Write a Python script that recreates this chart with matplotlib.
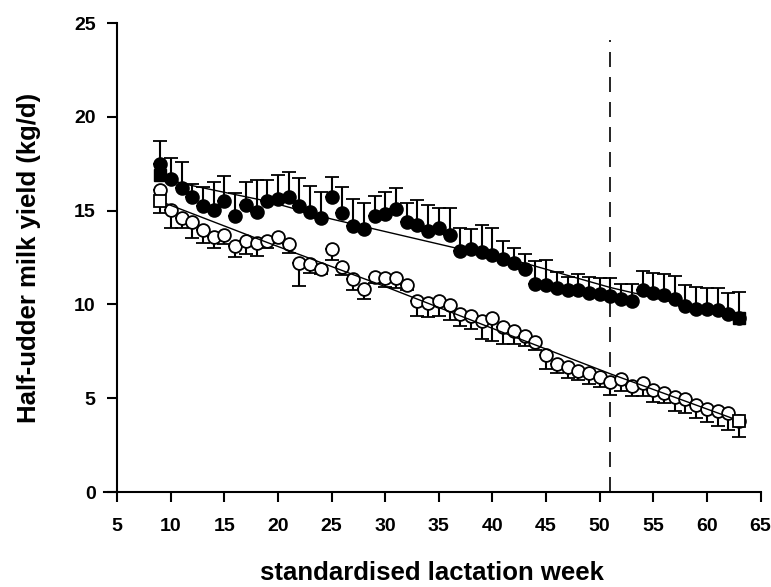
import numpy as np
import matplotlib
matplotlib.use("Agg")
import matplotlib.pyplot as plt

plt.rcParams['font.family'] = ['Liberation Sans', 'DejaVu Sans']
plt.rcParams['font.weight'] = 'bold'

weeks = list(range(9, 64))

# filled circles (upper error bars)
filled_mean = [17.5, 16.7, 16.2, 15.7, 15.25, 15.05, 15.5, 14.7, 15.3, 14.95,
               15.5, 15.6, 15.7, 15.25, 14.9, 14.6, 15.7, 14.85, 14.2, 14.0,
               14.7, 14.8, 15.1, 14.4, 14.25, 13.9, 14.05, 13.7, 12.85, 12.95,
               12.8, 12.65, 12.4, 12.2, 11.9, 11.1, 11.05, 10.85, 10.75, 10.75,
               10.6, 10.55, 10.45, 10.3, 10.2, 10.75, 10.6, 10.5, 10.3, 9.9,
               9.75, 9.75, 9.7, 9.5, 9.3]
filled_err = [1.2, 1.1, 1.4, 0.7, 1.0, 1.45, 1.35, 1.25, 1.2, 1.7,
              1.15, 1.3, 1.35, 1.5, 1.4, 1.4, 1.1, 1.4, 1.4, 1.4,
              1.1, 1.2, 1.1, 1.0, 1.3, 1.4, 1.1, 1.45, 1.2, 1.05,
              1.45, 1.4, 1.0, 0.8, 0.8, 1.2, 1.3, 0.9, 0.7, 0.85,
              0.85, 0.85, 0.95, 0.8, 0.9, 1.05, 1.1, 1.1, 1.2, 1.15,
              1.2, 1.15, 1.15, 1.1, 1.35]

# open circles (lower error bars)
open_mean = [16.1, 15.05, 14.6, 14.4, 13.95, 13.6, 13.7, 13.1, 13.4, 13.3,
             13.4, 13.6, 13.2, 12.2, 12.15, 11.9, 12.95, 12.0, 11.35, 10.8,
             11.45, 11.4, 11.4, 11.05, 10.2, 10.1, 10.2, 9.95, 9.5, 9.4,
             9.1, 9.3, 8.8, 8.6, 8.3, 8.0, 7.3, 6.85, 6.65, 6.45,
             6.35, 6.15, 5.85, 6.0, 5.65, 5.8, 5.45, 5.3, 5.05, 4.95,
             4.65, 4.45, 4.3, 4.2, 3.8]
open_err = [1.25, 0.95, 0.5, 0.85, 0.7, 0.6, 0.5, 0.55, 0.7, 0.7,
            0.4, 0.35, 0.45, 1.2, 0.5, 0.3, 0.6, 0.45, 0.6, 0.5,
            0.3, 0.45, 0.5, 0.3, 0.8, 0.75, 0.8, 0.8, 0.65, 0.7,
            0.95, 1.25, 0.9, 0.7, 0.5, 0.45, 0.75, 0.5, 0.55, 0.5,
            0.6, 0.55, 0.7, 0.6, 0.55, 0.7, 0.65, 0.55, 0.75, 0.75,
            0.7, 0.7, 0.8, 0.9, 0.85]

# fitted curves
fit_weeks_filled = [9, 11, 19, 25, 37, 43, 51, 63]
fit_filled = [16.9, 16.45, 15.5, 14.55, 12.95, 12.2, 10.9, 9.3]
fit_weeks_open = [9, 19, 30, 41, 51, 63]
fit_open = [15.5, 13.3, 10.95, 8.5, 6.3, 3.8]

cutoff_week = 51

fig = plt.figure(figsize=(7.71, 5.87), dpi=100)
ax = fig.add_axes([0.1353, 0.1618, 0.8511, 0.799])

zeros = np.zeros(len(weeks))
eb_kw = dict(fmt='o', ms=9.2, mew=1.3, mec='black', ecolor='black',
             elinewidth=1.5, capsize=4.8, capthick=1.5)

ax.errorbar(weeks, filled_mean, yerr=[zeros, filled_err], mfc='black',
            zorder=3, **eb_kw)
ax.errorbar(weeks, open_mean, yerr=[open_err, zeros], mfc='white',
            zorder=3, **eb_kw)

ax.plot(fit_weeks_filled, fit_filled, color='black', lw=1.0, zorder=4)
ax.plot(fit_weeks_open, fit_open, color='black', lw=1.0, zorder=4)

# end points of the fits
ax.plot([fit_weeks_filled[0], fit_weeks_filled[-1]], [fit_filled[0], fit_filled[-1]],
        ls='none', marker='s', ms=8.5, mfc='black', mec='black', zorder=5)
ax.plot([fit_weeks_open[0], fit_weeks_open[-1]], [fit_open[0], fit_open[-1]],
        ls='none', marker='s', ms=8.5, mfc='white', mec='black', mew=1.3, zorder=5)

vl, = ax.plot([cutoff_week, cutoff_week], [0, 24.1], color='black', lw=1.2, zorder=2)
vl.set_dashes((9, 6))

ax.set_xlim(3.8, 65)
ax.set_ylim(0, 25)
ax.set_xticks(range(5, 66, 5))
ax.set_yticks(range(0, 26, 5))

ax.spines['top'].set_visible(False)
ax.spines['right'].set_visible(False)
ax.spines['left'].set_position(('data', 5))
for s in ('left', 'bottom'):
    ax.spines[s].set_linewidth(1.5)
ax.tick_params(direction='out', length=7.5, width=1.5, labelsize=14)
ax.tick_params(axis='x', pad=11)
ax.tick_params(axis='y', pad=8)

ax.set_xlabel('standardised lactation week', fontsize=18.5, fontweight='bold', labelpad=19)
ax.set_ylabel('Half-udder milk yield (kg/d)', fontsize=18.5, fontweight='bold', labelpad=24)

fig.savefig('out.png', dpi=100)
